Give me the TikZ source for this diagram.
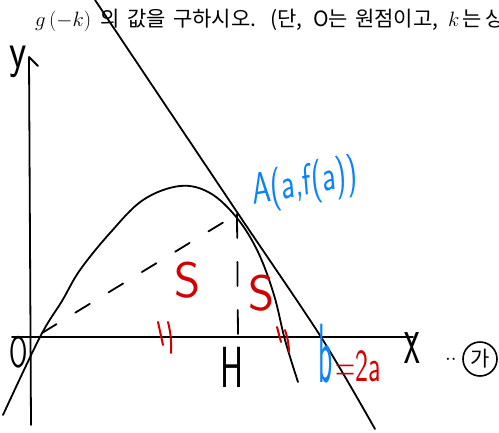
\documentclass[tikz,border=0pt]{standalone}
\usepackage{fontspec}
\newfontfamily\kr{Noto Sans CJK KR}
\definecolor{penblue}{RGB}{10,130,250}
\definecolor{penred}{RGB}{210,0,0}
\newcommand{\hp}[2]{\makebox[#1pt][l]{#2}}
\newcommand{\mth}[1]{{\fontsize{21}{21}\selectfont$#1$}}
\begin{document}
\begin{tikzpicture}[x=1pt,y=-1pt,
  pen/.style={line width=1.8pt,line cap=round,line join=round},
  hand/.style={inner sep=0pt,font=\sffamily\fontsize{#1}{#1}\selectfont},
  hand/.default=30]
\useasboundingbox (0,0) rectangle (499,432);
\clip (0,0) rectangle (499,432);
% header text
\node[anchor=base west,inner sep=0pt,font=\kr\fontsize{21}{21}\selectfont] (hdr) at (35,26)
  {\hp{65}{\mth{g\,(-k)}}\hp{27}{의}\hp{46}{값을}\hp{97}{구하시오.}\hp{43}{(단,}\hp{42}{O는}\hp{93}{원점이고,}\hp{37}{\mth{k}\,는}상수이다.)};
% named points
\coordinate (O) at (31,336);
\coordinate (A) at (237,214);
\coordinate (H) at (238,336);
% axes
\draw[pen] (12,337) -- (413,337);
\draw[pen] (31,425) -- (29,57) -- (38,66);
% curve y=f(x)
\draw[pen] plot[smooth,tension=0.6] coordinates {(3,415) (40,337) (62,301) (80,270) (110,233) (143,200) (180,186) (210,193) (237,218) (258,252) (274,295) (285,340) (298,382)};
% tangent line
\draw[pen] plot[smooth,tension=0.5] coordinates {(95,0) (237,212) (321,337) (375,429)};
% dashed segments
\draw[pen,dash pattern=on 17pt off 22pt] (42,333) -- (A);
\draw[pen,dash pattern=on 24pt off 24pt] (A) -- (H);
% equal marks
\draw[pen,penred,line width=2pt] (158,322) -- (163,345) (168,322) to[bend left=8] (171,353);
\draw[pen,penred,line width=2pt] (277,327) -- (281,342) (285,330) to[bend left=8] (289,352);
% labels
\node[hand=50,xscale=0.8] (ylab) at (18,62) {y};
\node[hand=44,xscale=0.6] (olab) at (19,352) {O};
\node[hand=58,xscale=0.6] (hlab) at (232,367) {H};
\node[hand=72,xscale=0.5] (xlab) at (412,348) {x};
\node[hand=44,text=penblue,xscale=0.68,rotate=7] (alab) at (305,184) {A(a,f(a))};
\node[hand=50,text=penred] (s1) at (188,280) {S};
\node[hand=50,text=penred] (s2) at (262,293) {S};
\node[hand=84,xscale=0.35,text=penblue] (blab) at (326,354) {b};
\node[hand=46,xscale=0.6,text=penred] (eqlab) at (358,366) {=2a};
\node[hand=20] (dots) at (451,360) {$\cdot\cdot$};
\node[draw,circle,line width=1.6pt,minimum size=34pt,inner sep=0pt,font=\kr\fontsize{21}{21}\selectfont] (ga) at (480,359) {가};
\end{tikzpicture}
\end{document}
